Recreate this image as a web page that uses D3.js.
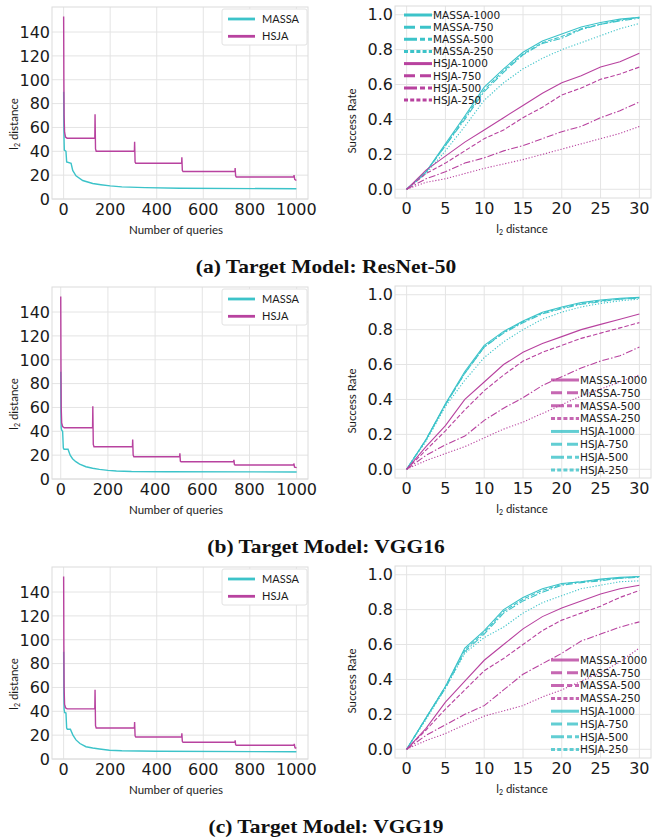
<!DOCTYPE html>
<html>
<head>
<meta charset="utf-8">
<script src="https://cdn.jsdelivr.net/npm/d3@7"></script>
<style>
  body { margin: 0; background: #fff; }
  svg { display: block; }
  .tick-label { font-family: "DejaVu Sans", sans-serif; font-size: 16px; fill: #1a1a1a; }
  .axis-label { font-family: Lato, "Open Sans", sans-serif; font-size: 11.5px; fill: #1a1a1a; }
  .legend-text { font-family: Lato, "Open Sans", sans-serif; font-size: 11px; fill: #1a1a1a; }
  .rate-legend-text { font-family: "DejaVu Sans", sans-serif; font-size: 10.5px; fill: #1a1a1a; }
  .caption { font-family: "Liberation Serif", "DejaVu Serif", serif; font-size: 19.5px; font-weight: bold; fill: #111; }
</style>
</head>
<body>
<svg id="fig" width="652" height="839"></svg>
<script>
// ---- tick labels ----
const queryTicks = [0, 200, 400, 600, 800, 1000];
const distanceTicks = [0, 20, 40, 60, 80, 100, 120, 140];
const l2Ticks = [0, 5, 10, 15, 20, 25, 30];
const rateTicks = [0, 0.2, 0.4, 0.6, 0.8, 1.0];

const captions = ["(a) Target Model: ResNet-50", "(b) Target Model: VGG16", "(c) Target Model: VGG19"];

// ---- l2 distance vs number of queries: [query, distance] ----
const massaQueriesA = [[0,90],[1,60],[2,48],[3,41],[10,40],[13,31],[32,30],[39,24],[53,19.5],[82,15.5],[125,13],[160,12],[200,11],[250,10.2],[350,9.5],[500,9],[1000,8.6]];
const hsjaQueriesA = [[0,153],[1,100],[2,70],[4,56],[8,52],[15,51],[134,51],[135,71],[137,42],[140,40],[304,40],[305,48],[307,31],[310,30],[507,30],[508,35],[510,24],[513,23],[736,23],[737,26],[739,19.5],[742,18.5],[989,18.5],[990,20],[993,16.5],[1000,15.5]];

const massaQueriesB = [[0,90],[1,55],[2,43],[4,41],[8,40],[11,26],[14,25],[31,25],[40,20],[50,17],[64,14.5],[80,12.5],[107,10.3],[135,9],[164,8.1],[200,7.2],[236,6.7],[300,6.3],[450,6.1],[1000,5.9]];
const hsjaQueriesB = [[0,153],[1,95],[2,60],[4,47],[8,44],[15,43],[135,43],[136,61],[138,29],[141,27],[304,27],[305,33],[307,20],[310,18.7],[504,18.7],[505,21.5],[507,15],[510,14.5],[733,14.5],[734,16],[736,12.3],[739,11.8],[987,11.8],[988,13],[991,10],[1000,9.5]];

const massaQueriesC = [[0,90],[1,55],[2,42],[4,39],[10,38.5],[13,26],[16,25],[29,25],[40,20],[53,16],[70,13],[96,10.3],[125,9.2],[154,8.4],[197,7.3],[250,6.9],[400,6.5],[1000,6.1]];
const hsjaQueriesC = [[0,153],[1,95],[2,60],[4,46],[8,43],[15,42],[134,42],[135,58],[137,28],[140,26],[304,26],[305,31],[307,19.5],[310,18.4],[507,18.4],[508,21.5],[510,14.8],[513,14],[736,14],[737,15.7],[739,12],[742,11.5],[990,11.5],[991,12.6],[994,9.5],[1000,9]];

// ---- success rate vs l2 distance ----
const rateGrid = [0, 2.5, 5, 7.5, 10, 12.5, 15, 17.5, 20, 22.5, 25, 27.5, 30];

const massa1000A = [0,0.10,0.26,0.42,0.585,0.69,0.785,0.85,0.89,0.93,0.955,0.975,0.985];
const massa750A  = [0,0.10,0.25,0.41,0.57,0.68,0.775,0.84,0.875,0.92,0.945,0.97,0.985];
const massa500A  = [0,0.10,0.25,0.40,0.56,0.67,0.77,0.835,0.865,0.915,0.945,0.965,0.98];
const massa250A  = [0,0.09,0.22,0.36,0.51,0.61,0.69,0.75,0.80,0.84,0.88,0.92,0.95];
const hsja1000A  = [0,0.11,0.19,0.27,0.34,0.41,0.48,0.55,0.61,0.65,0.70,0.73,0.78];
const hsja750A   = [0,0.09,0.15,0.22,0.29,0.34,0.41,0.47,0.54,0.58,0.63,0.66,0.70];
const hsja500A   = [0,0.06,0.10,0.15,0.18,0.22,0.25,0.29,0.33,0.36,0.41,0.45,0.50];
const hsja250A   = [0,0.04,0.06,0.09,0.12,0.145,0.17,0.20,0.23,0.26,0.29,0.32,0.36];

const massa1000B = [0,0.17,0.375,0.56,0.71,0.79,0.85,0.90,0.93,0.955,0.97,0.98,0.985];
const massa750B  = [0,0.17,0.37,0.55,0.70,0.785,0.845,0.895,0.925,0.95,0.965,0.975,0.985];
const massa500B  = [0,0.17,0.37,0.55,0.70,0.78,0.84,0.89,0.92,0.945,0.96,0.975,0.98];
const massa250B  = [0,0.16,0.36,0.51,0.64,0.73,0.80,0.86,0.90,0.93,0.95,0.965,0.975];
const hsja1000B  = [0,0.13,0.25,0.40,0.50,0.60,0.67,0.72,0.76,0.80,0.83,0.86,0.89];
const hsja750B   = [0,0.11,0.22,0.34,0.45,0.54,0.62,0.67,0.71,0.75,0.78,0.81,0.84];
const hsja500B   = [0,0.08,0.14,0.19,0.28,0.35,0.41,0.48,0.53,0.58,0.62,0.65,0.70];
const hsja250B   = [0,0.05,0.09,0.13,0.18,0.23,0.27,0.32,0.37,0.42,0.46,0.50,0.54];

const massa1000C = [0,0.18,0.36,0.58,0.68,0.80,0.87,0.92,0.95,0.96,0.975,0.985,0.99];
const massa750C  = [0,0.18,0.36,0.57,0.67,0.79,0.86,0.91,0.945,0.96,0.97,0.98,0.99];
const massa500C  = [0,0.18,0.35,0.56,0.66,0.78,0.85,0.90,0.94,0.955,0.965,0.98,0.985];
const massa250C  = [0,0.17,0.35,0.55,0.64,0.70,0.78,0.84,0.88,0.92,0.94,0.96,0.965];
const hsja1000C  = [0,0.12,0.27,0.39,0.51,0.60,0.69,0.76,0.81,0.85,0.89,0.92,0.94];
const hsja750C   = [0,0.11,0.23,0.34,0.45,0.52,0.60,0.68,0.74,0.78,0.82,0.87,0.91];
const hsja500C   = [0,0.08,0.14,0.20,0.25,0.34,0.43,0.49,0.55,0.62,0.66,0.70,0.73];
const hsja250C   = [0,0.05,0.09,0.14,0.19,0.22,0.25,0.30,0.34,0.39,0.44,0.50,0.58];

const budgets = ["1000", "750", "500", "250"];

// ---- styles ----
const cyan = "#3cc3c9";
const magenta = "#b8429f";
const gridColor = "#e4e4e4";
const curveDash = [null, "4.5,2", "7,2,1.5,2", "1.2,1.8"];
const legendDash = [null, "11,5", "13,3,5,3", "4,2.2"];

const svg = d3.select("#fig");
const rowStep = 280;

const rows = [
  { massaQ: massaQueriesA, hsjaQ: hsjaQueriesA, qDomain: [-50, 1050],
    rates: [massa1000A, massa750A, massa500A, massa250A, hsja1000A, hsja750A, hsja500A, hsja250A],
    legend: { x: 404, y: 15, step: 12.15, swap: false } },
  { massaQ: massaQueriesB, hsjaQ: hsjaQueriesB, qDomain: [-37, 1048],
    rates: [massa1000B, massa750B, massa500B, massa250B, hsja1000B, hsja750B, hsja500B, hsja250B],
    legend: { x: 551, y: 100, step: 12.86, swap: true } },
  { massaQ: massaQueriesC, hsjaQ: hsjaQueriesC, qDomain: [-50, 1050],
    rates: [massa1000C, massa750C, massa500C, massa250C, hsja1000C, hsja750C, hsja500C, hsja250C],
    legend: { x: 551, y: 100, step: 12.8, swap: true } },
];

const drawFrame = (g, x, y, xTicks, yTicks, fmtY) => {
  const [x0, x1] = x.range();
  const [y0, y1] = y.range();
  g.append("g").selectAll("line").data(xTicks).join("line")
    .attr("x1", d => x(d)).attr("x2", d => x(d)).attr("y1", y0).attr("y2", y1)
    .attr("stroke", gridColor).attr("stroke-width", 1);
  g.append("g").selectAll("line").data(yTicks).join("line")
    .attr("x1", x0).attr("x2", x1).attr("y1", d => y(d)).attr("y2", d => y(d))
    .attr("stroke", gridColor).attr("stroke-width", 1);
  g.append("rect").attr("x", x0).attr("y", y1).attr("width", x1 - x0).attr("height", y0 - y1)
    .attr("fill", "none").attr("stroke", "#dcdcdc").attr("stroke-width", 1);
  g.append("g").selectAll("text").data(xTicks).join("text")
    .attr("class", "tick-label").attr("x", d => x(d)).attr("y", y0 + 5).attr("dy", "0.71em")
    .attr("text-anchor", "middle").text(d => d);
  g.append("g").selectAll("text").data(yTicks).join("text")
    .attr("class", "tick-label").attr("x", x0 - 2).attr("y", d => y(d)).attr("dy", "0.36em")
    .attr("text-anchor", "end").text(fmtY);
};

const l2Label = (sel) => {
  sel.append("tspan").text("l");
  sel.append("tspan").attr("font-size", "7px").attr("dy", "1.5").text("2");
  sel.append("tspan").attr("dy", "-1.5").text(" distance");
};

rows.forEach((row, i) => {
  const top = i * rowStep;

  // left panel: l2 distance over queries
  const gl = svg.append("g").attr("transform", `translate(0,${top})`);
  const xq = d3.scaleLinear().domain(row.qDomain).range([52, 308]);
  const yq = d3.scaleLinear().domain([0, 161]).range([199, 7]);
  drawFrame(gl, xq, yq, queryTicks, distanceTicks, d => d);

  const qLine = d3.line().x(d => xq(d[0])).y(d => yq(d[1]));
  gl.append("path").attr("d", qLine(row.massaQ)).attr("fill", "none")
    .attr("stroke", cyan).attr("stroke-width", 1.4);
  gl.append("path").attr("d", qLine(row.hsjaQ)).attr("fill", "none")
    .attr("stroke", magenta).attr("stroke-width", 1.4);

  const lg = gl.append("g");
  lg.append("rect").attr("x", 222).attr("y", 9).attr("width", 85).attr("height", 36)
    .attr("fill", "#fff").attr("stroke", "#e2e2e2").attr("rx", 2);
  [["MASSA", cyan], ["HSJA", magenta]].forEach(([name, c], k) => {
    const ly = 19 + k * 17.3;
    lg.append("line").attr("x1", 228).attr("x2", 255).attr("y1", ly).attr("y2", ly)
      .attr("stroke", c).attr("stroke-width", 2.8);
    lg.append("text").attr("class", "legend-text").attr("x", 262).attr("y", ly).attr("dy", "0.36em").text(name);
  });

  gl.append("text").attr("class", "axis-label").attr("x", 176).attr("y", 234)
    .attr("text-anchor", "middle").text("Number of queries");
  gl.append("text").attr("class", "axis-label").attr("transform", "translate(18,124) rotate(-90)")
    .attr("text-anchor", "middle").call(l2Label);

  // right panel: success rate over l2 distance
  const gr = svg.append("g").attr("transform", `translate(0,${top})`);
  const xr = d3.scaleLinear().domain([-1.5, 31.5]).range([395, 651]);
  const yr = d3.scaleLinear().domain([-0.05, 1.05]).range([198, 6]);
  drawFrame(gr, xr, yr, l2Ticks, rateTicks, d3.format(".1f"));

  const rLine = d3.line().x((d, k) => xr(rateGrid[k])).y(d => yr(d));
  row.rates.forEach((series, k) => {
    gr.append("path").attr("d", rLine(series)).attr("fill", "none")
      .attr("stroke", k < 4 ? cyan : magenta).attr("stroke-width", 1.1)
      .attr("stroke-dasharray", curveDash[k % 4]);
  });

  const L = row.legend;
  const names = budgets.map(b => "MASSA-" + b).concat(budgets.map(b => "HSJA-" + b));
  names.forEach((name, k) => {
    const isFirst = k < 4;
    const c = (isFirst !== L.swap) ? cyan : magenta;
    const ly = L.y + k * L.step;
    gr.append("line").attr("x1", L.x).attr("x2", L.x + 28).attr("y1", ly).attr("y2", ly)
      .attr("stroke", c).attr("stroke-width", 3).attr("opacity", L.swap ? 0.8 : 1)
      .attr("stroke-dasharray", legendDash[k % 4]);
    gr.append("text").attr("class", "rate-legend-text").attr("x", L.x + 29).attr("y", ly)
      .attr("dy", "0.36em").text(name);
  });

  gr.append("text").attr("class", "axis-label").attr("x", 522).attr("y", 233)
    .attr("text-anchor", "middle").call(l2Label);
  gr.append("text").attr("class", "axis-label").attr("transform", "translate(356,121) rotate(-90)")
    .attr("text-anchor", "middle").text("Success Rate");

  // caption, widened to the wider serif of the original
  const cap = svg.append("text").attr("class", "caption").attr("x", 326).attr("y", top + 273)
    .attr("text-anchor", "middle").text(captions[i]);
  const w = cap.node().getComputedTextLength();
  cap.attr("textLength", w * 1.1).attr("lengthAdjust", "spacingAndGlyphs");
});
</script>
</body>
</html>
